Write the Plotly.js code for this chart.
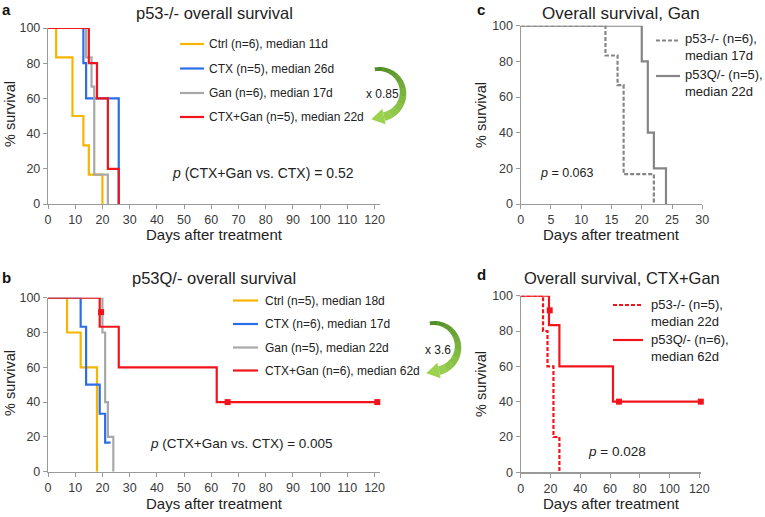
<!DOCTYPE html>
<html>
<head>
<meta charset="utf-8">
<script src="https://cdn.plot.ly/plotly-3.0.1.min.js"></script>
<style>html,body{margin:0;padding:0;background:#fff;}#chart{width:765px;height:517px;}</style>
</head>
<body>
<div id="chart"></div>
<script>
// ---- Data (days after treatment, % survival) ----
// Panel a: p53-/-
const aCtrlX = [0, 3, 9, 13, 15, 20];
const aCtrlY = [100, 83.3, 50, 33.3, 16.7, 0];
const aCtxX  = [0, 13, 14, 26];
const aCtxY  = [100, 80, 60, 0];
const aGanX  = [0, 14, 16, 17, 22];
const aGanY  = [100, 83.3, 66.7, 16.7, 0];
const aComboX = [0, 15, 18, 22, 26];
const aComboY = [100, 80, 60, 20, 0];
// Panel b: p53Q/-
const bCtrlX = [0, 7, 12, 18];
const bCtrlY = [100, 80, 60, 0];
const bCtxX  = [0, 12, 14, 19, 21, 23];
const bCtxY  = [100, 83.3, 50, 33.3, 16.7, 16.7];
const bGanX  = [0, 20, 21, 22, 24];
const bGanY  = [100, 80, 40, 20, 0];
const bComboX = [0, 19, 26, 62, 121];
const bComboY = [100, 83.3, 60, 40, 40];
const bCensorX = [19.5, 66, 121];
const bCensorY = [91.7, 40, 40];

const aLabels = ["Ctrl (n=6), median 11d", "CTX (n=5), median 26d", "Gan (n=6), median 17d", "CTX+Gan (n=5), median 22d"];
const bLabels = ["Ctrl (n=5), median 18d", "CTX (n=6), median 17d", "Gan (n=5), median 22d", "CTX+Gan (n=6), median 62d"];
const cLabels = ["p53-/- (n=6),<br>median 17d", "p53Q/- (n=5),<br>median 22d"];
const dLabels = ["p53-/- (n=5),<br>median 22d", "p53Q/- (n=6),<br>median 62d"];

const xTicksLong = [0,10,20,30,40,50,60,70,80,90,100,110,120];
const xTicksGan = [0,5,10,15,20,25,30];
const xTicksD = [0,20,40,60,80,100,120];
const yTicks = [0,20,40,60,80,100];

// ---- Styling ----
const W = 765, H = 517;
const px = x => x / W;
const py = y => 1 - y / H;
const FONT = "Arial, 'Liberation Sans', sans-serif";
const C_CTRL = "#F7B500", C_CTX = "#2A6FE8", C_GAN = "#A8A8A8", C_RED = "#F2141B", C_GRAY2 = "#858585";
const DASH = "4px,2px";

function step(x, y, color, xa, ya, dash) {
  return {x: x, y: y, xaxis: xa, yaxis: ya, type: "scatter", mode: "lines",
    line: {shape: "hv", color: color, width: 2.2, dash: dash || "solid"},
    cliponaxis: false, hoverinfo: "skip", showlegend: false};
}
function censor(x, y, xa, ya) {
  return {x: x, y: y, xaxis: xa, yaxis: ya, type: "scatter", mode: "markers",
    marker: {symbol: "square", size: 6, color: C_RED}, cliponaxis: false,
    hoverinfo: "skip", showlegend: false};
}

const traces = [
  step(aCtrlX, aCtrlY, C_CTRL, "x", "y"),
  step(aCtxX, aCtxY, C_CTX, "x", "y"),
  step(aGanX, aGanY, C_GAN, "x", "y"),
  step(aComboX, aComboY, C_RED, "x", "y"),
  step(bCtrlX, bCtrlY, C_CTRL, "x2", "y2"),
  step(bCtxX, bCtxY, C_CTX, "x2", "y2"),
  step(bGanX, bGanY, C_GAN, "x2", "y2"),
  step(bComboX, bComboY, C_RED, "x2", "y2"),
  censor(bCensorX, bCensorY, "x2", "y2"),
  step(aGanX, aGanY, C_GRAY2, "x3", "y3", DASH),
  step(bGanX, bGanY, C_GRAY2, "x3", "y3"),
  step(aComboX, aComboY, C_RED, "x4", "y4", DASH),
  step(bComboX, bComboY, C_RED, "x4", "y4"),
  censor(bCensorX, bCensorY, "x4", "y4")
];

function xax(d0, d1, range, ticks, anchor) {
  return {domain: [px(d0), px(d1)], range: range, tickvals: ticks, ticktext: ticks.map(String),
    showline: true, linecolor: "#9a9a9a", linewidth: 1.2, ticks: "outside", ticklen: 4, tickcolor: "#9a9a9a",
    showgrid: false, zeroline: false, anchor: anchor, fixedrange: true,
    tickfont: {family: FONT, size: 12.5, color: "#3a3a3a"}};
}
function yax(top, bottom, anchor) {
  return {domain: [py(bottom), py(top)], range: [0, 100], tickvals: yTicks, ticktext: yTicks.map(String),
    showline: true, linecolor: "#9a9a9a", linewidth: 1.2, ticks: "outside", ticklen: 4, tickcolor: "#9a9a9a",
    showgrid: false, zeroline: false, anchor: anchor, fixedrange: true,
    tickfont: {family: FONT, size: 12.5, color: "#3a3a3a"}};
}

const ann = [];
function text(t, x, y, size, opts) {
  opts = opts || {};
  ann.push({text: t, x: px(x), y: py(y), xref: "paper", yref: "paper", showarrow: false,
    xanchor: opts.xanchor || "center", yanchor: "middle", align: opts.align || "left",
    textangle: opts.angle || 0,
    font: {family: FONT, size: size, color: opts.color || "#222", weight: opts.weight || "normal"}});
}
const shapes = [];
function legLine(x0, x1, y, color, dash) {
  shapes.push({type: "line", xref: "paper", yref: "paper", x0: px(x0), x1: px(x1), y0: py(y), y1: py(y),
    line: {color: color, width: 2.2, dash: dash || "solid"}});
}

// panel letters
text("a", 6, 9, 15, {weight: "bold", color: "#111"});
text("b", 6, 277, 15, {weight: "bold", color: "#111"});
text("c", 481, 10, 15, {weight: "bold", color: "#111"});
text("d", 481, 274, 15, {weight: "bold", color: "#111"});

// titles
text("p53-/- overall survival", 214, 13, 16.5);
text("p53Q/- overall survival", 214, 278, 16.5);
text("Overall survival, Gan", 621, 13, 17);
text("Overall survival, CTX+Gan", 622, 278, 16.5);

// axis titles
text("Days after treatment", 214, 234, 15);
text("Days after treatment", 214, 503, 15);
text("Days after treatment", 611, 234.5, 15);
text("Days after treatment", 611, 503, 15);
text("% survival", 10, 114, 14.5, {angle: -90});
text("% survival", 10, 383, 14.5, {angle: -90});
text("% survival", 481, 115, 14.5, {angle: -90});
text("% survival", 481, 384, 14.5, {angle: -90});

// p-values
text("<i>p</i> (CTX+Gan vs. CTX) = 0.52", 170, 173, 14, {xanchor: "left"});
text("<i>p</i> (CTX+Gan vs. CTX) = 0.005", 148, 443, 13.5, {xanchor: "left"});
text("<i>p</i> = 0.063", 538, 173, 12.5, {xanchor: "left"});
text("<i>p</i> = 0.028", 586, 451, 13.5, {xanchor: "left"});

// legends a
const aCols = [C_CTRL, C_CTX, C_GAN, C_RED];
const aRows = [44, 68.5, 93, 117];
aLabels.forEach((l, i) => { legLine(180, 204, aRows[i], aCols[i]); text(l, 207, aRows[i], 12, {xanchor: "left"}); });
const bRows = [300.5, 324, 347.5, 370.5];
bLabels.forEach((l, i) => { legLine(233, 258, bRows[i], aCols[i]); text(l, 263, bRows[i], 12, {xanchor: "left"}); });
// legend c
legLine(656, 680, 40.5, C_GRAY2, DASH);
legLine(656, 680, 76, C_GRAY2);
text(cLabels[0], 683, 47, 13, {xanchor: "left"});
text(cLabels[1], 683, 83, 13, {xanchor: "left"});
// legend d
legLine(613, 643, 305, C_RED, DASH);
legLine(613, 643, 340, C_RED);
text(dLabels[0], 649, 312.5, 13, {xanchor: "left"});
text(dLabels[1], 649, 347.5, 13, {xanchor: "left"});

// fold-change arrows
function arrow(cx, cy, R) {
  const a0 = -100, a1 = 78, N = 10;
  const c0 = [78, 138, 38], c1 = [156, 210, 80];
  const P = (deg, r) => { const t = deg * Math.PI / 180; return [cx + r * Math.cos(t), cy + r * Math.sin(t)]; };
  const pt = p => px(p[0]).toFixed(5) + "," + py(p[1]).toFixed(5);
  for (let s = 0; s < N; s++) {
    const ta = a0 + (a1 - a0) * s / N, tb = a0 + (a1 - a0) * (s + 1) / N + (s < N - 1 ? 1 : 0);
    const ha = 1.8 + 2.6 * s / N, hb = 1.8 + 2.6 * (s + 1) / N;
    const pts = [];
    const M = 6;
    for (let k = 0; k <= M; k++) { const t = ta + (tb - ta) * k / M; pts.push(P(t, R + ha + (hb - ha) * k / M)); }
    for (let k = M; k >= 0; k--) { const t = ta + (tb - ta) * k / M; pts.push(P(t, R - ha - (hb - ha) * k / M)); }
    const f = (s + 0.5) / N;
    const col = "rgb(" + c0.map((v, j) => Math.round(v + (c1[j] - v) * f)).join(",") + ")";
    shapes.push({type: "path", xref: "paper", yref: "paper", path: "M" + pts.map(pt).join("L") + "Z",
      fillcolor: col, line: {width: 0}});
  }
  const t1 = a1 * Math.PI / 180;
  const base = P(a1, R);
  const tan = [-Math.sin(t1), Math.cos(t1)];
  const tip = [base[0] + tan[0] * 13, base[1] + tan[1] * 13];
  const b1 = P(a1, R + 8), b2 = P(a1, R - 8);
  shapes.push({type: "path", xref: "paper", yref: "paper",
    path: "M" + [b1, tip, b2].map(pt).join("L") + "Z", fillcolor: "rgb(156,210,80)", line: {width: 0}});
}
arrow(379, 93, 24);
arrow(434, 347, 24);
text("x 0.85", 382, 94, 12);
text("x 3.6", 438, 350, 12);

const layout = {
  width: W, height: H, margin: {l: 0, r: 0, t: 0, b: 0},
  paper_bgcolor: "#fff", plot_bgcolor: "#fff", showlegend: false,
  xaxis: xax(48, 380, [0, 122], xTicksLong, "y"),
  yaxis: yax(28, 204, "x"),
  xaxis2: xax(48, 380, [0, 122], xTicksLong, "y2"),
  yaxis2: yax(297.7, 471.7, "x2"),
  xaxis3: xax(520.7, 702.3, [0, 30], xTicksGan, "y3"),
  yaxis3: yax(25.7, 204, "x3"),
  xaxis4: xax(520.7, 700.8, [0, 121], xTicksD, "y4"),
  yaxis4: yax(295.7, 472.3, "x4"),
  annotations: ann, shapes: shapes
};
Plotly.newPlot("chart", traces, layout, {staticPlot: true, displayModeBar: false});
</script>
</body>
</html>
